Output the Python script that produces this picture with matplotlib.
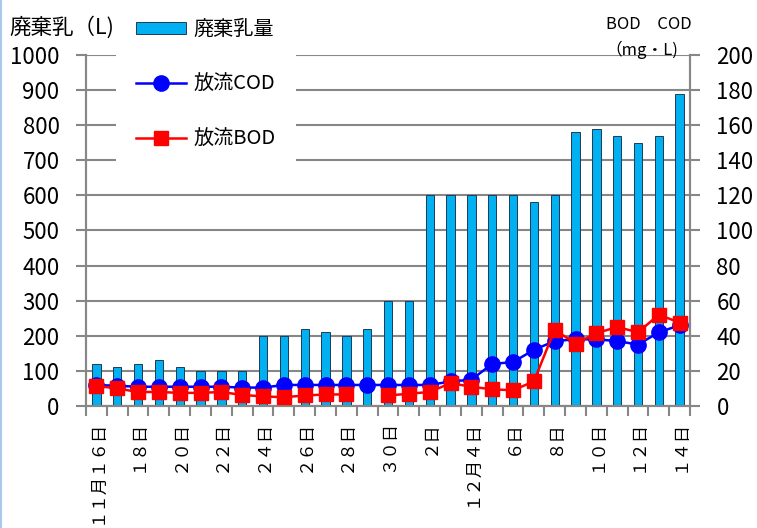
import numpy as np
import matplotlib
matplotlib.use('Agg')
import matplotlib.pyplot as plt
from matplotlib.lines import Line2D

plt.rcParams['font.family'] = ['Noto Sans CJK JP', 'DejaVu Sans']

# data (11/16 - 12/14)
days = ['１１月１６日', '１７日', '１８日', '１９日', '２０日', '２１日', '２２日', '２３日',
        '２４日', '２５日', '２６日', '２７日', '２８日', '２９日', '３０日',
        '１日', '２日', '３日', '１２月４日', '５日', '６日', '７日', '８日', '９日',
        '１０日', '１１日', '１２日', '１３日', '１４日']
milk = [120, 110, 120, 130, 110, 100, 100, 100, 200, 200, 220, 210, 200, 220, 300,
        300, 600, 600, 600, 600, 600, 580, 600, 780, 790, 770, 750, 770, 890]
cod = [12, 11.5, 11, 11, 11, 11, 11, 10.5, 10.5, 12, 12, 12, 12, 12, 12,
       12, 12, 14, 15, 24, 25, 32, 37, 38, 38, 37, 35, 42, 46]
bod = [11.5, 10, 8, 8, 7.5, 7.5, 8, 6.3, 5.5, 5, 6, 6.6, 6.6, np.nan, 6,
       7, 8, 13, 11, 9.5, 9, 14, 43.5, 35.5, 41.5, 45, 42, 52, 47.5]

x = np.arange(len(days))
grid_c = '#878787'

fig = plt.figure(figsize=(7.57, 5.28), dpi=100)
ax = fig.add_axes([0.1136, 0.231, 0.798, 0.665])
ax2 = ax.twinx()

bars = ax.bar(x, milk, width=0.4, color='#00B0F0', edgecolor='#1F3B57', linewidth=0.7,
              label='廃棄乳量', zorder=3)
ax.set_xlim(-0.5, len(days) - 0.5)
ax.set_ylim(0, 1000)
ax.set_yticks(np.arange(0, 1001, 100))
ax.tick_params(axis='y', labelsize=16, length=7, width=1.5, color=grid_c, pad=12)
ax.yaxis.grid(True, color=grid_c, linewidth=1.5, zorder=0)
ax.set_axisbelow(True)

# category boundary ticks, labels every other day
ax.set_xticks(np.arange(-0.5, len(days), 1))
ax.set_xticklabels([])
ax.set_xticks(x[::2], minor=True)
ax.set_xticklabels(days[::2], minor=True, rotation=90, fontsize=12.5, va='top', ha='center')
ax.tick_params(axis='x', which='major', length=7, width=1.5, color=grid_c)
ax.tick_params(axis='x', which='minor', length=0, pad=10)

for s in ['left', 'right', 'bottom']:
    ax.spines[s].set_color(grid_c)
    ax.spines[s].set_linewidth(1.5)
    ax2.spines[s].set_color(grid_c)
    ax2.spines[s].set_linewidth(1.5)
ax.spines['top'].set_visible(False)
ax2.spines['top'].set_visible(False)

l1, = ax2.plot(x, cod, color='#0000FF', marker='o', markersize=11, linewidth=1.8,
               label='放流COD', zorder=4)
l2, = ax2.plot(x, bod, color='#FF0000', marker='s', markersize=10, linewidth=1.8,
               label='放流BOD', zorder=5)
ax2.set_ylim(0, 200)
ax2.set_yticks(np.arange(0, 201, 20))
ax2.tick_params(axis='y', labelsize=16, length=7, width=1.5, color=grid_c, pad=12)
ax.set_zorder(1)
ax.patch.set_visible(False)
ax2.set_zorder(2)

leg = ax2.legend(handles=[bars, l1, l2], loc='lower left',
                 bbox_to_anchor=(116 / 757, 1 - 170 / 528), bbox_transform=fig.transFigure,
                 borderaxespad=0, frameon=True, facecolor='white',
                 edgecolor='none', framealpha=1, fontsize=14.5, handlelength=2.5,
                 handleheight=0.6, labelspacing=1.68, borderpad=1.0, handletextpad=0.35)
leg.get_frame().set_boxstyle('square', pad=0)

fig.text(0.012, 0.948, '廃棄乳（L)', fontsize=15.5, va='center', ha='left')
fig.text(0.80, 0.953, 'BOD　COD', fontsize=12, va='center', ha='left')
fig.text(0.80, 0.906, '（mg・L)', fontsize=12, va='center', ha='left')

fig.add_artist(Line2D([0.001, 0.001], [0, 1], color='#A9C8EC', linewidth=1.5))

fig.savefig('out.png', dpi=100)
